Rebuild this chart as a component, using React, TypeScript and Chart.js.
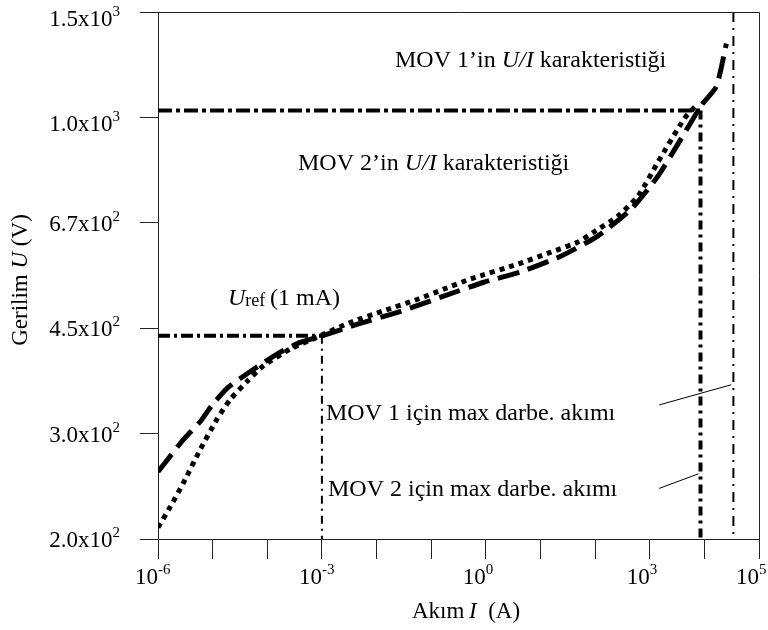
import React, { useEffect, useRef } from "react";
import { Chart, registerables } from "chart.js";

Chart.register(...registerables);

const FONT = '"Liberation Serif", "Times New Roman", serif';

// MOV 1 (dashed) U/I characteristic
const mov1Current = [1e-6, 2.9e-6, 5.9e-6, 9.8e-6, 1.9e-5, 4.9e-5, 1.7e-4, 4.0e-4, 9.4e-4, 4.5e-3, 0.0275, 0.15, 0.92, 4.4, 24, 113, 460, 1430, 3790, 8800, 16600, 25300];
const mov1Voltage = [259, 293, 314, 335, 358, 381, 410, 426, 436, 457, 480, 507, 537, 559, 594, 642, 712, 809, 934, 1060, 1141, 1345];

// MOV 2 (dotted) U/I characteristic
const mov2Current = [1e-6, 1.66e-6, 2.9e-6, 5.9e-6, 1.2e-5, 2.1e-5, 4.3e-5, 8.4e-5, 2.6e-4, 8.3e-4, 3.3e-3, 0.0134, 0.0565, 0.17, 0.53, 3.9, 15.6, 49, 96, 264, 615, 1430, 4300, 7100];
const mov2Voltage = [209, 226, 248, 282, 317, 342, 367, 389, 415, 435, 460, 481, 503, 523, 544, 576, 603, 627, 652, 693, 749, 854, 1008, 1060];

// Axis ranges and ticks
const xMin = 1e-6;
const xMax = 1e5;
const yMin = 200;
const yMax = 1518.75;
const xTickValues = [1e-6, 1e-5, 1e-4, 1e-3, 1e-2, 1e-1, 1, 10, 100, 1e3, 1e4, 1e5];
const xLabelValues = [1e-6, 1e-3, 1, 1e3, 1e5];
const xLabelExponents = ["-6", "-3", "0", "3", "5"];
const yTickValues = [200, 300, 450, 675, 1012.5, 1518.75];
const yTickMantissas = ["2.0", "3.0", "4.5", "6.7", "1.0", "1.5"];
const yTickExponents = ["2", "2", "2", "2", "3", "3"];

// Reference lines
const refCurrent = 1e-3;
const refVoltage = 437;
const kneeVoltage = 1040;
const maxCurrentMov2 = 8.5e3;
const maxCurrentMov1 = 3.4e4;

// Leader lines for the annotations
const leader1Current = [1490, 31000];
const leader1Voltage = [335, 362];
const leader2Current = [1490, 7800];
const leader2Voltage = [243, 257];

type Part = { t: string; italic?: boolean; size?: number; dy?: number };

function fontOf(p: Part) {
  return `${p.italic ? "italic " : ""}${p.size || 23}px ${FONT}`;
}

function drawParts(ctx: CanvasRenderingContext2D, parts: Part[], x: number, y: number, align: "left" | "center" | "right") {
  const widths = parts.map((p) => {
    ctx.font = fontOf(p);
    return ctx.measureText(p.t).width;
  });
  const total = widths.reduce((a, b) => a + b, 0);
  let cx = align === "left" ? x : align === "center" ? x - total / 2 : x - total;
  ctx.textAlign = "left";
  parts.forEach((p, i) => {
    ctx.font = fontOf(p);
    ctx.fillText(p.t, cx, y + (p.dy || 0));
    cx += widths[i];
  });
}

const pts = (xs: number[], ys: number[]) => xs.map((x, i) => ({ x, y: ys[i] }));

const decorPlugin = {
  id: "decor",
  afterDraw(chart: any) {
    const { ctx, chartArea: ca } = chart;
    const xs = chart.scales.x;
    const ys = chart.scales.y;
    ctx.save();
    // top and right frame
    ctx.strokeStyle = "#222";
    ctx.lineWidth = 1;
    ctx.beginPath();
    ctx.moveTo(ca.left, Math.round(ca.top) + 0.5);
    ctx.lineTo(Math.round(ca.right) + 0.5, Math.round(ca.top) + 0.5);
    ctx.lineTo(Math.round(ca.right) + 0.5, ca.bottom);
    ctx.stroke();

    ctx.fillStyle = "#000";
    ctx.textBaseline = "alphabetic";

    // x tick labels
    xLabelValues.forEach((v, i) => {
      const px = xs.getPixelForValue(v);
      drawParts(ctx, [{ t: "10" }], px, 584, "right");
      drawParts(ctx, [{ t: xLabelExponents[i], size: 15 }], px, 574, "left");
    });

    // y tick labels
    yTickValues.forEach((v, i) => {
      const py = ys.getPixelForValue(v);
      const base = py + (i >= 4 ? 14 : 8);
      drawParts(ctx, [{ t: yTickMantissas[i] + "x10" }, { t: yTickExponents[i], size: 15, dy: -10 }], 120, base, "right");
    });

    // axis titles
    drawParts(ctx, [{ t: "Akım" }, { t: "\u2009" }, { t: "I", italic: true }, { t: "  (A)" }], 412, 618, "left");
    ctx.save();
    ctx.translate(27, 280);
    ctx.rotate(-Math.PI / 2);
    drawParts(ctx, [{ t: "Gerilim " }, { t: "U", italic: true }, { t: " (V)" }], 0, 0, "center");
    ctx.restore();

    // annotations
    const A = 24;
    drawParts(ctx, [{ t: "MOV 1’in ", size: A }, { t: "U/I", italic: true, size: A }, { t: " karakteristiği", size: A }], 395, 67, "left");
    drawParts(ctx, [{ t: "MOV 2’in ", size: A }, { t: "U/I", italic: true, size: A }, { t: " karakteristiği", size: A }], 298, 170, "left");
    drawParts(ctx, [{ t: "U", italic: true, size: A }, { t: "ref", size: 18, dy: 1 }, { t: "\u2009(1 mA)", size: A }], 228, 305, "left");
    drawParts(ctx, [{ t: "MOV 1 için max darbe. akımı", size: A }], 326, 420, "left");
    drawParts(ctx, [{ t: "MOV 2 için max darbe. akımı", size: A }], 328, 496, "left");
    ctx.restore();
  },
};

export default function App() {
  const canvasRef = useRef<HTMLCanvasElement | null>(null);

  useEffect(() => {
    const canvas = canvasRef.current;
    if (!canvas) return;
    const line = (data: any[], width: number, dash: number[], tension = 0) => ({
      data,
      borderColor: "#000",
      borderWidth: width,
      borderDash: dash,
      borderCapStyle: "butt",
      pointRadius: 0,
      fill: false,
      tension,
    });
    const chart = new Chart(canvas, {
      type: "line",
      data: {
        datasets: [
          line(pts(mov1Current, mov1Voltage), 5, [22, 9], 0.2),
          line(pts(mov2Current, mov2Voltage), 5, [5, 5], 0.2),
          line([{ x: xMin, y: refVoltage }, { x: refCurrent, y: refVoltage }], 4, [12, 4, 3, 4]),
          line([{ x: refCurrent, y: refVoltage }, { x: refCurrent, y: yMin }], 2, [8, 5, 2, 5]),
          line([{ x: xMin, y: kneeVoltage }, { x: maxCurrentMov2, y: kneeVoltage }], 4, [14, 4, 4, 4]),
          line([{ x: maxCurrentMov2, y: kneeVoltage }, { x: maxCurrentMov2, y: yMin }], 4, [9, 5, 3, 5]),
          line([{ x: maxCurrentMov1, y: yMax }, { x: maxCurrentMov1, y: yMin }], 2, [10, 6, 2, 6]),
          line(pts(leader1Current, leader1Voltage), 1, []),
          line(pts(leader2Current, leader2Voltage), 1, []),
        ] as any,
      },
      options: {
        animation: false,
        responsive: false,
        layout: { padding: { left: 140, right: 9, top: 12, bottom: 71 } },
        plugins: { legend: { display: false }, tooltip: { enabled: false } },
        scales: {
          x: {
            type: "logarithmic",
            min: xMin,
            max: xMax,
            afterBuildTicks: (s: any) => {
              s.ticks = xTickValues.map((v) => ({ value: v }));
            },
            ticks: { display: false },
            grid: { drawOnChartArea: false, drawTicks: true, tickLength: 20, color: "#222", lineWidth: 1 },
            border: { display: true, color: "#222", width: 1 },
          },
          y: {
            type: "logarithmic",
            min: yMin,
            max: yMax,
            afterBuildTicks: (s: any) => {
              s.ticks = yTickValues.map((v) => ({ value: v }));
            },
            ticks: { display: false },
            grid: { drawOnChartArea: false, drawTicks: true, tickLength: 18, color: "#222", lineWidth: 1 },
            border: { display: true, color: "#222", width: 1 },
          },
        },
      } as any,
      plugins: [decorPlugin],
    });
    return () => chart.destroy();
  }, []);

  return (
    <div style={{ position: "absolute", left: 0, top: 0, width: 768, height: 630, background: "#fff" }}>
      <canvas ref={canvasRef} width={768} height={630} style={{ display: "block" }} />
    </div>
  );
}
